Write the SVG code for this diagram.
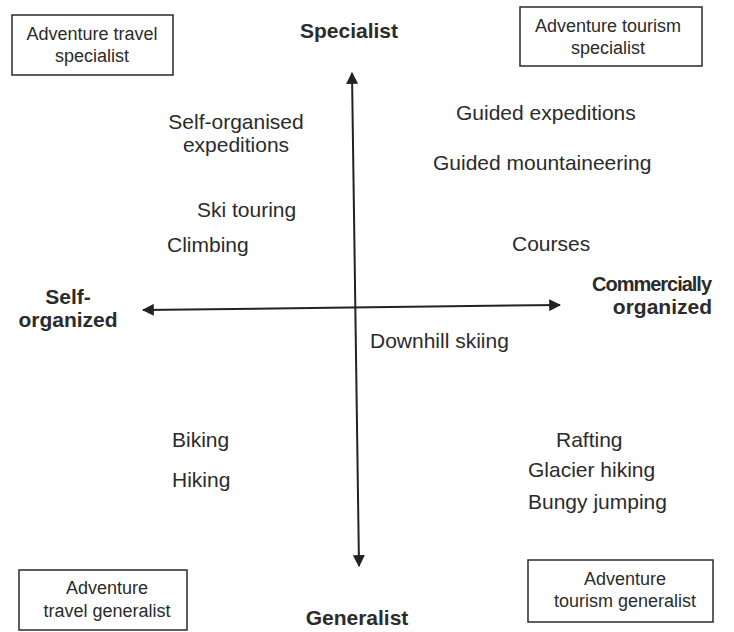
<svg xmlns="http://www.w3.org/2000/svg" width="734" height="632" viewBox="0 0 734 632">
<style>
text{font-family:"Liberation Sans",Arial,sans-serif;fill:#2b2b2b}
.lbl{font-size:21px}
.box{font-size:18px;text-anchor:middle}
.ax{font-size:21px;font-weight:bold}
.frame{fill:#fff;stroke:#2a2a2a;stroke-width:1.5}
.axis{stroke:#222;stroke-width:2;fill:none}
</style>
<defs>
<marker id="ah" viewBox="0 0 10 10" refX="9" refY="5" markerWidth="6" markerHeight="6" orient="auto" markerUnits="strokeWidth">
<path d="M0,0 L10,5 L0,10 Z" fill="#222"/>
</marker>
</defs>
<rect width="734" height="632" fill="#fff"/>
<g id="connectors">
<line class="axis" x1="355.5" y1="320" x2="352" y2="73" marker-end="url(#ah)"/>
<line class="axis" x1="355.5" y1="320" x2="359" y2="566" marker-end="url(#ah)"/>
<line class="axis" x1="350" y1="307.5" x2="143" y2="310" marker-end="url(#ah)"/>
<line class="axis" x1="350" y1="307.5" x2="560" y2="305" marker-end="url(#ah)"/>
</g>
<g id="box-travel-specialist">
<rect class="frame" x="12" y="15" width="161" height="60"/>
<text class="box" x="92" y="40">Adventure travel</text>
<text class="box" x="92" y="62">specialist</text>
</g>
<g id="box-tourism-specialist">
<rect class="frame" x="520" y="7" width="182" height="59"/>
<text class="box" x="608" y="32">Adventure tourism</text>
<text class="box" x="608" y="54">specialist</text>
</g>
<g id="box-travel-generalist">
<rect class="frame" x="19" y="570" width="168" height="60"/>
<text class="box" x="107" y="594">Adventure</text>
<text class="box" x="107" y="617">travel generalist</text>
</g>
<g id="box-tourism-generalist">
<rect class="frame" x="528" y="560" width="185" height="62"/>
<text class="box" x="625" y="585">Adventure</text>
<text class="box" x="625" y="607">tourism generalist</text>
</g>
<g id="axis-specialist"><text class="ax" x="349" y="38" text-anchor="middle">Specialist</text></g>
<g id="axis-generalist"><text class="ax" x="357" y="625" text-anchor="middle">Generalist</text></g>
<g id="axis-self"><text class="ax" x="68" y="304" text-anchor="middle">Self-</text><text class="ax" x="68" y="327" text-anchor="middle">organized</text></g>
<g id="axis-commercial"><text class="ax" x="712" y="291" text-anchor="end" style="font-size:20px" textLength="120" lengthAdjust="spacing">Commercially</text><text class="ax" x="712" y="314" text-anchor="end">organized</text></g>
<g id="n-self-exp"><text class="lbl" x="236" y="129" text-anchor="middle">Self-organised</text><text class="lbl" x="236" y="152" text-anchor="middle">expeditions</text></g>
<g id="n-ski"><text class="lbl" x="197" y="217">Ski touring</text></g>
<g id="n-climb"><text class="lbl" x="167" y="252">Climbing</text></g>
<g id="n-guided-exp"><text class="lbl" x="456" y="120">Guided expeditions</text></g>
<g id="n-guided-mnt"><text class="lbl" x="433" y="170">Guided mountaineering</text></g>
<g id="n-courses"><text class="lbl" x="512" y="251">Courses</text></g>
<g id="n-downhill"><text class="lbl" x="370" y="348">Downhill skiing</text></g>
<g id="n-biking"><text class="lbl" x="172" y="447">Biking</text></g>
<g id="n-hiking"><text class="lbl" x="172" y="487">Hiking</text></g>
<g id="n-rafting"><text class="lbl" x="556" y="447">Rafting</text></g>
<g id="n-glacier"><text class="lbl" x="528" y="477">Glacier hiking</text></g>
<g id="n-bungy"><text class="lbl" x="528" y="509">Bungy jumping</text></g>
</svg>
